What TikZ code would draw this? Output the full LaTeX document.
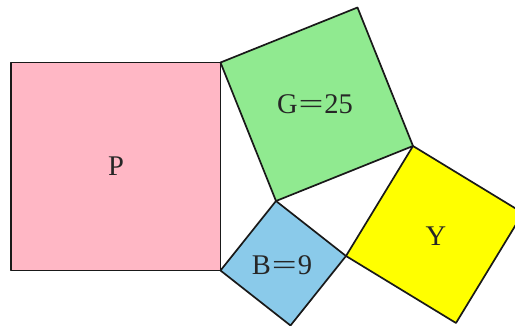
\documentclass[tikz,border=0pt]{standalone}
\usepackage{fontspec}
\setmainfont{Liberation Serif}
\newcommand{\wideeq}{\kern1pt\scalebox{1.55}[1]{=}\kern1pt}
\begin{document}
\begin{tikzpicture}[x=1pt,y=-1pt,
  sq/.style={draw=black!90,line width=1.7pt,line join=round},
  lbl/.style={font=\fontsize{28.5}{30}\selectfont,text=black!85,inner sep=0pt}]
\useasboundingbox (0,0) rectangle (515,326);
\clip (0,0) rectangle (515,326);
% vertices
\coordinate (PA) at (11,62.5);
\coordinate (A) at (220.5,62.5);
\coordinate (C) at (220.5,270.5);
\coordinate (PC) at (11,270.5);
\coordinate (D) at (276,201);
\coordinate (T) at (357.5,7.5);
\coordinate (E) at (413,146);
\coordinate (F) at (346,256);
\coordinate (Bb) at (290.5,325.5);
\coordinate (Yr) at (523,213);
\coordinate (Yb) at (456,323);
% squares
\filldraw[sq,fill={rgb,255:red,255;green,183;blue,197}] (PA) -- (A) -- (C) -- (PC) -- cycle;
\filldraw[sq,fill={rgb,255:red,144;green,234;blue,144}] (A) -- (T) -- (E) -- (D) -- cycle;
\filldraw[sq,fill={rgb,255:red,138;green,202;blue,234}] (D) -- (F) -- (Bb) -- (C) -- cycle;
\filldraw[sq,fill={rgb,255:red,255;green,255;blue,0}] (E) -- (Yr) -- (Yb) -- (F) -- cycle;
% labels
\node[lbl] (lP) at (116,166) {P};
\node[lbl] (lG) at (315,104) {G\wideeq25};
\node[lbl] (lB) at (282,265) {B\wideeq9};
\node[lbl] (lY) at (436,236) {Y};
\end{tikzpicture}
\end{document}
